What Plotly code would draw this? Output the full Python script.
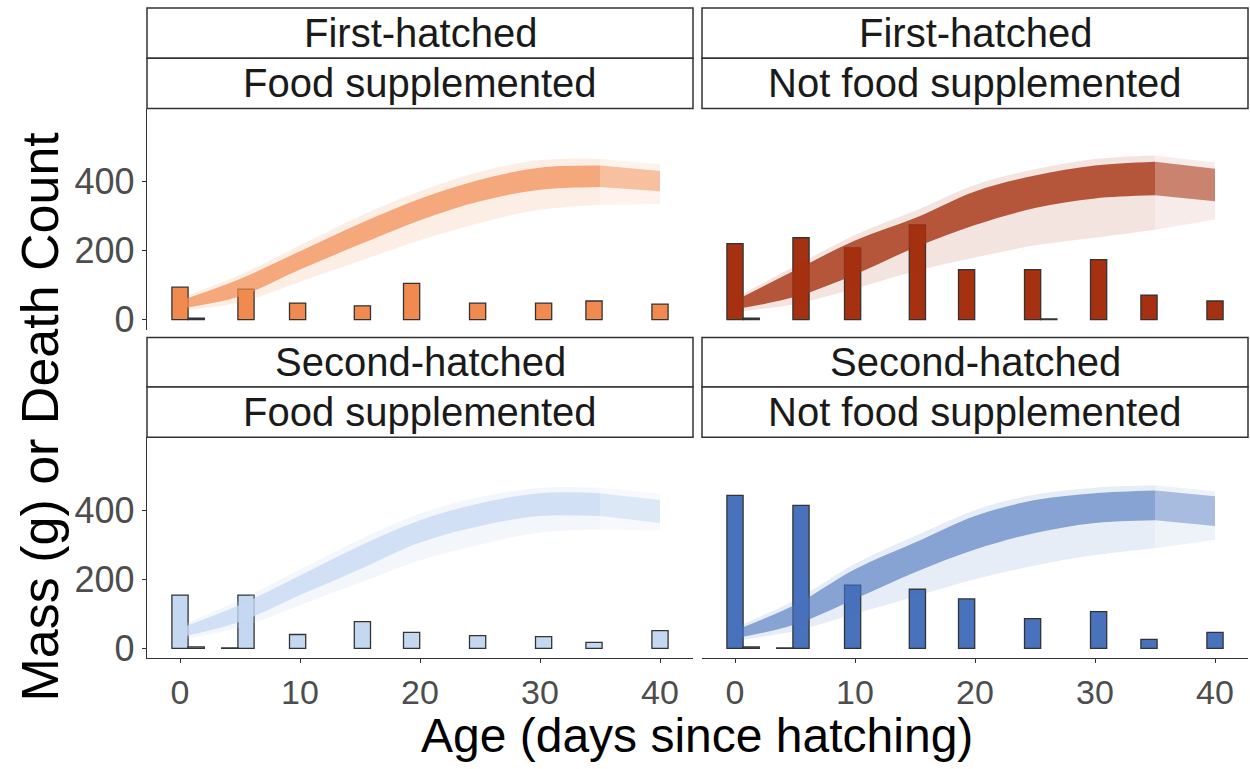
import plotly.graph_objects as go

W, H = 1250, 769

# ---------------- data ----------------
days = [0, 5, 10, 15, 20, 25, 30, 35, 40]

bar_days = [0, 5.5, 9.8, 15.2, 19.3, 24.8, 30.3, 34.5, 40]

deaths_first_fed = [94, 88, 48, 40, 105, 48, 48, 54, 45]
deaths_first_unfed = [220, 237, 208, 274, 145, 145, 174, 71, 54]
deaths_second_fed = [154, 154, 40, 77, 46, 37, 34, 17, 51]
deaths_second_unfed = [443, 414, 183, 171, 143, 86, 106, 26, 46]

small_days_first_fed = [1.35]
small_vals_first_fed = [4]
small_days_first_unfed = [1.35, 26.15]
small_vals_first_unfed = [4, 2]
small_days_second_fed = [1.35, 4.15]
small_vals_second_fed = [4, 1]
small_days_second_unfed = [1.35, 4.15]
small_vals_second_unfed = [4, 1]

# mass trajectories envelope (g) read at days
core_lo_first_fed = [32, 68, 145, 218, 288, 343, 376, 384, 372]
core_hi_first_fed = [55, 118, 198, 278, 350, 405, 440, 446, 430]
outer_lo_first_fed = [25, 50, 110, 170, 230, 280, 318, 332, 335]
outer_hi_first_fed = [62, 130, 215, 300, 372, 428, 462, 466, 450]

core_lo_first_unfed = [30, 66, 131, 209, 274, 323, 351, 360, 343]
core_hi_first_unfed = [55, 143, 229, 294, 371, 417, 446, 457, 437]
outer_lo_first_unfed = [22, 45, 90, 140, 180, 215, 237, 260, 290]
outer_hi_first_unfed = [62, 155, 245, 315, 390, 435, 465, 475, 455]

core_lo_second_fed = [32, 77, 154, 229, 306, 354, 383, 383, 363]
core_hi_second_fed = [58, 126, 211, 297, 371, 420, 449, 449, 429]
outer_lo_second_fed = [25, 60, 125, 190, 255, 300, 335, 345, 340]
outer_hi_second_fed = [65, 140, 228, 315, 390, 438, 465, 465, 448]

core_lo_second_unfed = [29, 69, 143, 220, 286, 334, 363, 371, 354]
core_hi_second_unfed = [52, 126, 229, 306, 383, 429, 449, 457, 440]
outer_lo_second_unfed = [22, 50, 100, 150, 200, 240, 270, 290, 314]
outer_hi_second_unfed = [60, 140, 245, 325, 400, 445, 465, 472, 455]

strip_top = ["First-hatched", "First-hatched", "Second-hatched", "Second-hatched"]
strip_bottom = ["Food supplemented", "Not food supplemented",
                "Food supplemented", "Not food supplemented"]

x_ticks = [0, 10, 20, 30, 40]
y_ticks = [0, 200, 400]

# ---------------- styling ----------------
colors = [(240, 138, 78), (165, 49, 16), (197, 216, 242), (72, 114, 188)]
core_alpha = [0.7, 0.8, 0.75, 0.6]
outer_alpha = [0.15, 0.13, 0.2, 0.13]

panels = [
    dict(deaths=deaths_first_fed, sd=small_days_first_fed, sv=small_vals_first_fed,
         clo=core_lo_first_fed, chi=core_hi_first_fed, olo=outer_lo_first_fed, ohi=outer_hi_first_fed),
    dict(deaths=deaths_first_unfed, sd=small_days_first_unfed, sv=small_vals_first_unfed,
         clo=core_lo_first_unfed, chi=core_hi_first_unfed, olo=outer_lo_first_unfed, ohi=outer_hi_first_unfed),
    dict(deaths=deaths_second_fed, sd=small_days_second_fed, sv=small_vals_second_fed,
         clo=core_lo_second_fed, chi=core_hi_second_fed, olo=outer_lo_second_fed, ohi=outer_hi_second_fed),
    dict(deaths=deaths_second_unfed, sd=small_days_second_unfed, sv=small_vals_second_unfed,
         clo=core_lo_second_unfed, chi=core_hi_second_unfed, olo=outer_lo_second_unfed, ohi=outer_hi_second_unfed),
]

# pixel geometry
xdom_px = [(147, 693), (702, 1248), (147, 693), (702, 1248)]
ydom_px = [(110, 334), (110, 334), (443, 667), (443, 667)]
strip_px = [(8, 59, 110), (8, 59, 110), (342, 392, 443), (342, 392, 443)]

def px_x(p):
    return p / W

def px_y(p):
    return 1 - p / H

fig = go.Figure()

def rgba(c, a):
    return "rgba(%d,%d,%d,%.3f)" % (c[0], c[1], c[2], a)

for i, p in enumerate(panels):
    sfx = "" if i == 0 else str(i + 1)
    xa, ya = "x" + sfx, "y" + sfx
    c = colors[i]
    # two segments: 0-35 (denser) and 35-40 (lighter)
    for seg, fade in ((slice(0, 8), 1.0), (slice(7, 9), 0.7)):
        d = days[seg]
        for lo, hi, a in ((p["olo"], p["ohi"], outer_alpha[i]),
                          (p["clo"], p["chi"], core_alpha[i])):
            fig.add_trace(go.Scatter(x=d, y=lo[seg], mode="lines",
                                     line=dict(width=0, shape="spline"),
                                     xaxis=xa, yaxis=ya, showlegend=False, hoverinfo="skip"))
            fig.add_trace(go.Scatter(x=d, y=hi[seg], mode="lines", fill="tonexty",
                                     fillcolor=rgba(c, a * fade),
                                     line=dict(width=0, shape="spline"),
                                     xaxis=xa, yaxis=ya, showlegend=False, hoverinfo="skip"))
    fig.add_trace(go.Bar(x=bar_days, y=p["deaths"], width=1.35,
                         marker=dict(color=rgba(c, 1), line=dict(color="#333333", width=1.3)),
                         xaxis=xa, yaxis=ya, showlegend=False))
    fig.add_trace(go.Bar(x=p["sd"], y=p["sv"], width=1.35,
                         marker=dict(color=rgba(c, 1), line=dict(color="#333333", width=1.3)),
                         xaxis=xa, yaxis=ya, showlegend=False))

layout = dict(width=W, height=H, margin=dict(l=0, r=0, t=0, b=0),
              paper_bgcolor="white", plot_bgcolor="white", barmode="overlay",
              font=dict(family="Liberation Sans, Arial, sans-serif"), showlegend=False)

for i in range(4):
    sfx = "" if i == 0 else str(i + 1)
    xk, yk = "xaxis" + sfx, "yaxis" + sfx
    x0, x1 = xdom_px[i]
    y0, y1 = ydom_px[i]
    bottom = i >= 2
    left = i % 2 == 0
    layout[xk] = dict(domain=[px_x(x0), px_x(x1)], range=[-2.75, 42.75],
                      anchor="y" + sfx, showgrid=False, zeroline=False,
                      showline=bottom, linecolor="#333333", linewidth=1.3,
                      ticks="outside" if bottom else "", ticklen=4, tickcolor="#333333",
                      tickvals=x_ticks, showticklabels=bottom,
                      tickfont=dict(size=34, color="#4D4D4D"))
    layout[yk] = dict(domain=[px_y(y1), px_y(y0)], range=[-29, 611],
                      anchor="x" + sfx, showgrid=False, zeroline=False,
                      showline=left, linecolor="#333333", linewidth=1.3,
                      ticks="outside" if left else "", ticklen=4, tickcolor="#333333",
                      tickvals=y_ticks, showticklabels=left,
                      tickfont=dict(size=36, color="#4D4D4D"))

shapes = []
annotations = []
for i in range(4):
    x0, x1 = xdom_px[i]
    s0, s1, s2 = strip_px[i]
    for (a, b, txt) in ((s0, s1, strip_top[i]), (s1, s2, strip_bottom[i])):
        shapes.append(dict(type="rect", xref="paper", yref="paper",
                           x0=px_x(x0), x1=px_x(x1), y0=px_y(b), y1=px_y(a),
                           line=dict(color="#333333", width=1.5), fillcolor="white"))
        annotations.append(dict(text=txt, xref="paper", yref="paper",
                                x=px_x((x0 + x1) / 2), y=px_y((a + b) / 2),
                                xanchor="center", yanchor="middle", showarrow=False,
                                font=dict(size=40, color="#1A1A1A")))

annotations.append(dict(text="Mass (g) or Death Count", xref="paper", yref="paper",
                        x=px_x(40), y=px_y(422), textangle=-90, showarrow=False,
                        xanchor="center", yanchor="middle",
                        font=dict(size=52, color="black")))
annotations.append(dict(text="Age (days since hatching)", xref="paper", yref="paper",
                        x=px_x(697), y=px_y(745), showarrow=False,
                        xanchor="center", yanchor="middle",
                        font=dict(size=48, color="black")))

layout["shapes"] = shapes
layout["annotations"] = annotations
fig.update_layout(**layout)

fig.write_html("out.html")
